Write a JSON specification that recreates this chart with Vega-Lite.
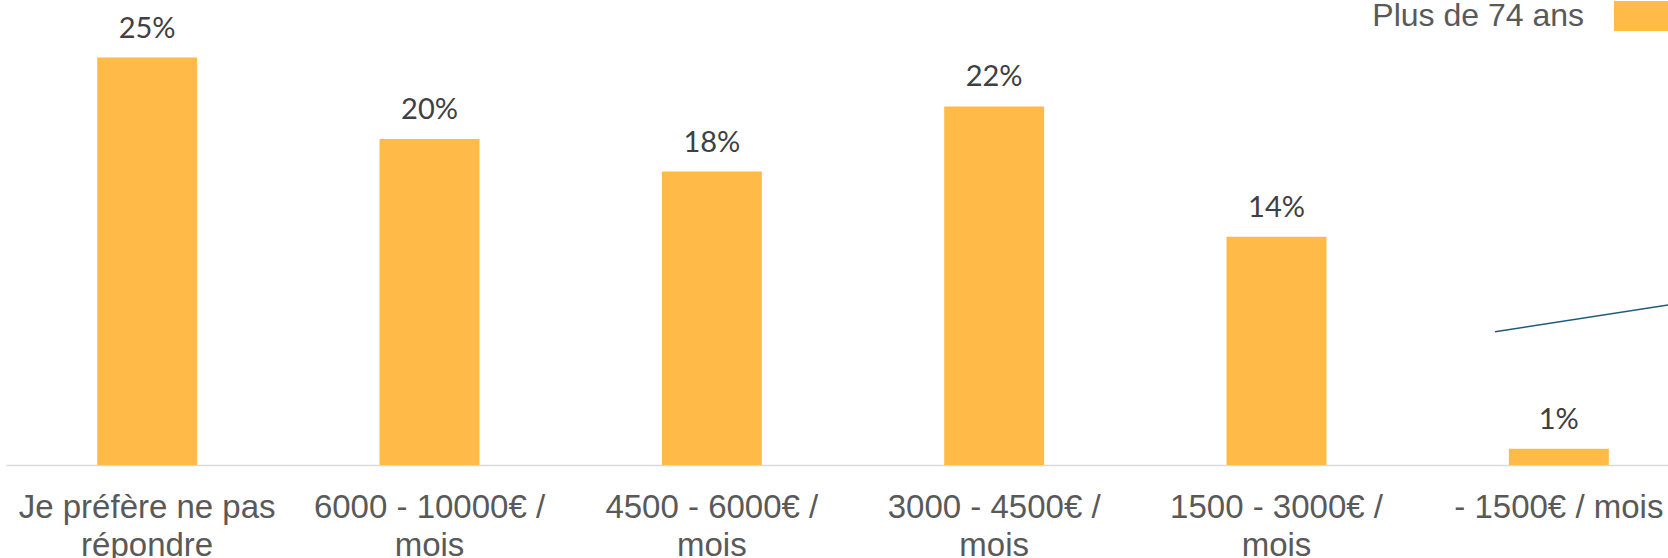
{
  "$schema": "https://vega.github.io/schema/vega-lite/v6.json",
  "width": 1668,
  "height": 465,
  "autosize": {"type": "none"},
  "padding": {"left": 0, "top": 0, "right": 0, "bottom": 93},
  "background": "#ffffff",
  "config": {
    "view": {"stroke": null},
    "axis": {"grid": false}
  },
  "datasets": {
    "bars": [
      {"revenu": "Je préfère ne pas répondre", "pct": 0.25, "groupe": "Plus de 74 ans"},
      {"revenu": "6000 - 10000€ / mois", "pct": 0.20, "groupe": "Plus de 74 ans"},
      {"revenu": "4500 - 6000€ / mois", "pct": 0.18, "groupe": "Plus de 74 ans"},
      {"revenu": "3000 - 4500€ / mois", "pct": 0.22, "groupe": "Plus de 74 ans"},
      {"revenu": "1500 - 3000€ / mois", "pct": 0.14, "groupe": "Plus de 74 ans"},
      {"revenu": "- 1500€ / mois", "pct": 0.01, "groupe": "Plus de 74 ans"}
    ],
    "trait": [
      {"lx": 5.274, "ly": 0.0818, "lx2": 5.887, "ly2": 0.0982}
    ]
  },
  "layer": [
    {
      "data": {"name": "bars"},
      "layer": [
        {
          "mark": {"type": "bar"},
          "encoding": {
            "x": {
              "field": "revenu", "type": "nominal", "sort": null,
              "scale": {"range": [6, 1700], "paddingInner": 0.646, "paddingOuter": 0.323},
              "axis": {
                "title": null,
                "labelAngle": 0,
                "ticks": false,
                "domainColor": "#D9D9D9",
                "domainWidth": 1.5,
                "labelFont": "Liberation Sans",
                "labelFontSize": 33,
                "labelColor": "#595959",
                "labelPadding": 26,
                "labelLineHeight": 38,
                "labelLimit": 0,
                "labelExpr": "datum.value == 'Je préfère ne pas répondre' ? ['Je préfère ne pas', 'répondre'] : (datum.value == '- 1500€ / mois' ? datum.value : [replace(datum.value, ' mois', ''), 'mois'])"
              }
            },
            "y": {
              "field": "pct", "type": "quantitative",
              "scale": {"domain": [0, 0.2853], "nice": false, "zero": true},
              "axis": null
            },
            "color": {
              "field": "groupe", "type": "nominal",
              "scale": {"range": ["#FFBA47"]},
              "legend": {
                "title": null,
                "orient": "none",
                "legendX": 1628,
                "legendY": 0,
                "padding": 0,
                "symbolType": "M-2,-1H2V1H-2Z",
                "symbolSize": 900,
                "symbolStrokeWidth": 0,
                "symbolOpacity": 1,
                "labelAlign": "right",
                "labelOffset": -76,
                "labelFont": "Liberation Sans",
                "labelFontSize": 32,
                "labelColor": "#595959",
                "labelLimit": 0
              }
            }
          }
        },
        {
          "mark": {"type": "text", "baseline": "alphabetic", "dy": -20, "font": "Lato", "fontSize": 29, "color": "#404040"},
          "encoding": {
            "x": {"field": "revenu", "type": "nominal", "sort": null},
            "y": {"field": "pct", "type": "quantitative"},
            "text": {"field": "pct", "type": "quantitative", "format": ".0%"}
          }
        }
      ]
    },
    {
      "data": {"name": "trait"},
      "mark": {"type": "rule", "color": "#1F5A7A", "strokeWidth": 1.5},
      "encoding": {
        "x": {"field": "lx", "type": "quantitative", "scale": {"domain": [0, 6], "range": [6, 1700], "nice": false, "zero": false}, "axis": null},
        "x2": {"field": "lx2"},
        "y": {"field": "ly", "type": "quantitative"},
        "y2": {"field": "ly2"}
      }
    }
  ],
  "resolve": {"scale": {"x": "independent"}}
}
